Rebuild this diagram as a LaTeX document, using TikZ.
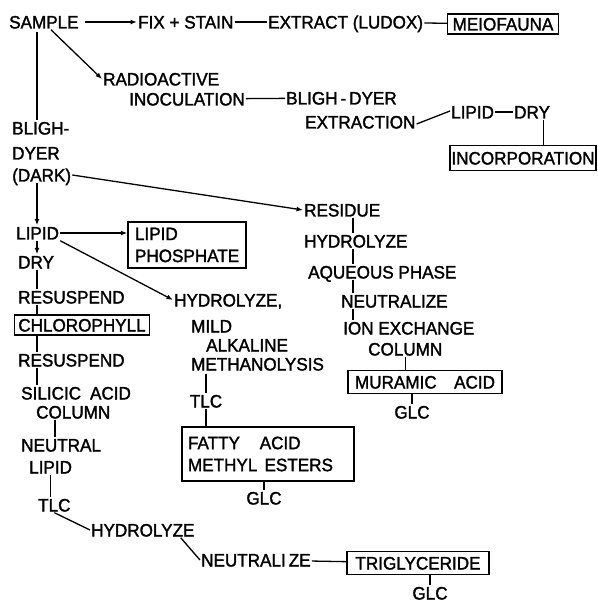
\documentclass[tikz,border=0pt]{standalone}
\usepackage{fontspec}
\setmainfont[FakeStretch=0.95,FakeBold=1.6]{Liberation Sans}
\usetikzlibrary{arrows.meta}

\tikzset{
	lbl/.style={inner sep=1pt, font=\fontsize{18}{22}\selectfont, text height=13pt, text depth=0pt},
	lblw/.style={lbl, anchor=west},
	sbox/.style={lbl, draw, line width=1.4pt, inner sep=0pt},
	mbox/.style={draw, line width=1.4pt, inner ysep=0pt, font=\fontsize{18}{22}\selectfont, align=left},
	link/.style={line width=1.3pt},
	flow/.style={link, -{Latex[length=6.5pt,width=5pt]}}
}

\begin{document}
\begin{tikzpicture}[x=1pt,y=-1pt]
	\useasboundingbox (0,0) rectangle (597,609);

	\coordinate (lcol) at (37,0);
	\coordinate (ncol) at (55,0);
	\coordinate (rcol) at (353,0);

	\node[lblw] (sample) at (8,22) {SAMPLE};
	\node[lblw] (fix) at (137,22) {FIX + STAIN};
	\node[lblw] (ludox) at (267,22) {EXTRACT (LUDOX)};
	\node[sbox, minimum width=111pt, minimum height=20pt] (meio) at (503,24) {MEIOFAUNA};

	\node[lblw] (radio) at (102,79) {RADIOACTIVE};
	\node[lblw] (inoc) at (128,99) {INOCULATION};
	\node[lblw] (bdyer) at (285,98) {BLIGH\,-\,DYER};
	\node[lblw] (bdext) at (304,122) {EXTRACTION};
	\node[lblw] (lipinc) at (450,112) {LIPID};
	\node[lblw] (dryinc) at (513,112) {DRY};
	\node[sbox, minimum width=146pt, minimum height=25pt] (incorp) at (523,158) {INCORPORATION};

	\node[lblw] (bd1) at (11,128) {BLIGH-};
	\node[lblw] (bd2) at (11,153) {DYER};
	\node[lblw] (bd3) at (11,175) {(DARK)};

	\node[lblw] (lip1) at (15,233) {LIPID};
	\node[mbox, inner xsep=7pt, text width=104pt, minimum height=46pt] (lphos) at (187,245) {LIPID\\PHOSPHATE};
	\node[lblw] (dry1) at (17,262) {DRY};
	\node[lblw] (resus1) at (17,297) {RESUSPEND};
	\node[sbox, minimum width=135pt, minimum height=20pt] (chl) at (82,325) {CHLOROPHYLL};
	\node[lblw] (resus2) at (17,360) {RESUSPEND};
	\node[lblw] (silicic) at (20,393) {SILICIC\hspace{0.5em}ACID};
	\node[lblw] (col1) at (35,412) {COLUMN};
	\node[lblw] (neutral) at (20,445) {NEUTRAL};
	\node[lblw] (nlip) at (28,467) {LIPID};
	\node[lblw] (tlc1) at (37,505) {TLC};
	\node[lblw] (hyd3) at (90,530) {HYDROLYZE};
	\node[lblw] (neut3) at (200,560) {NEUTRALI\,ZE};
	\node[sbox, minimum width=142pt, minimum height=23pt] (trig) at (418,563) {TRIGLYCERIDE};
	\node[lbl] (glc4) at (430,593) {GLC};

	\node[lblw] (hyd2) at (173,300) {HYDROLYZE,};
	\node[lblw] (mild) at (190,326) {MILD};
	\node[lblw] (alk) at (205,345) {ALKALINE};
	\node[lblw] (meth) at (190,364) {METHANOLYSIS};
	\node[lbl] (tlc2) at (206,401) {TLC};
	\node[mbox, inner xsep=6pt, text width=160pt, minimum height=54pt] (fatty) at (268,454) {FATTY\hspace{1.1em}ACID\\METHYL\hspace{0.4em}ESTERS};
	\node[lbl] (glc3) at (264,498) {GLC};

	\node[lblw] (res) at (303,210) {RESIDUE};
	\node[lblw] (hyd4) at (303,241) {HYDROLYZE};
	\node[lblw] (aq) at (307,272) {AQUEOUS PHASE};
	\node[lblw] (neut4) at (340,301) {NEUTRALIZE};
	\node[lblw] (ion) at (342,328) {ION EXCHANGE};
	\node[lblw] (col2) at (367,349) {COLUMN};
	\node[sbox, inner xsep=7pt, text width=140pt, minimum height=23pt] (mur) at (425,382) {MURAMIC\hfill ACID};
	\node[lbl] (glc2) at (412,412) {GLC};

	\draw[flow, shorten <=5pt] (sample) -- (fix);
	\draw[link] (fix) -- (ludox);
	\draw[link] (ludox) -- (meio);
	\draw[flow] ([xshift=7pt]sample.south) -- (radio.west);
	\draw[link] (inoc) -- (bdyer);
	\draw[link] ([yshift=-2pt]bdext.east) -- ([yshift=1pt]lipinc.west);
	\draw[link] (lipinc) -- (dryinc);
	\coordinate (dinc) at ([xshift=-8pt]dryinc.south east);
	\draw[link] (dinc) -- (dinc |- incorp.north);

	\draw[link, shorten <=2pt] (sample.south -| lcol) -- (bd1.north -| lcol);
	\draw[flow] (bd3.south -| lcol) -- (lip1.north -| lcol);
	\draw[flow] (bd3.east) -- (res.west);
	\draw[flow] (lip1.east) -- (lip1.east -| lphos.west);
	\draw[flow] (lip1.south east) -- (hyd2.west);
	\draw[flow] (lip1.south -| lcol) -- (dry1.north -| lcol);
	\draw[link] (dry1.south -| lcol) -- (resus1.north -| lcol);
	\draw[link] (resus1.south -| lcol) -- (chl.north -| lcol);
	\draw[link] (chl.south -| lcol) -- (resus2.north -| lcol);
	\draw[link] (resus2.south -| lcol) -- (silicic.north -| lcol);
	\draw[link] (col1.south -| ncol) -- (neutral.north -| ncol);
	\draw[link] (nlip.south) -- (nlip.south |- tlc1.north);
	\draw[link] (tlc1.south) -- (hyd3.west);
	\coordinate (hz) at ([xshift=-15pt]hyd3.south east);
	\draw[link] (hz) -- (neut3.west);
	\draw[link] (neut3) -- (trig);
	\draw[link] (glc4.north |- trig.south) -- (glc4.north);

	\draw[link, shorten <=2pt] (tlc2.north |- meth.south) -- (tlc2.north);
	\draw[link] (tlc2.south) -- (tlc2.south |- fatty.north);
	\draw[link] (glc3.north |- fatty.south) -- (glc3.north);

	\draw[link] (res.south -| rcol) -- (hyd4.north -| rcol);
	\draw[link] (hyd4.south -| rcol) -- (aq.north -| rcol);
	\draw[link] (aq.south -| rcol) -- (neut4.north -| rcol);
	\draw[link] (neut4.south -| rcol) -- (ion.north -| rcol);
	\draw[link] (col2.south) -- (col2.south |- mur.north);
	\draw[link] (glc2.north |- mur.south) -- (glc2.north);
\end{tikzpicture}
\end{document}
